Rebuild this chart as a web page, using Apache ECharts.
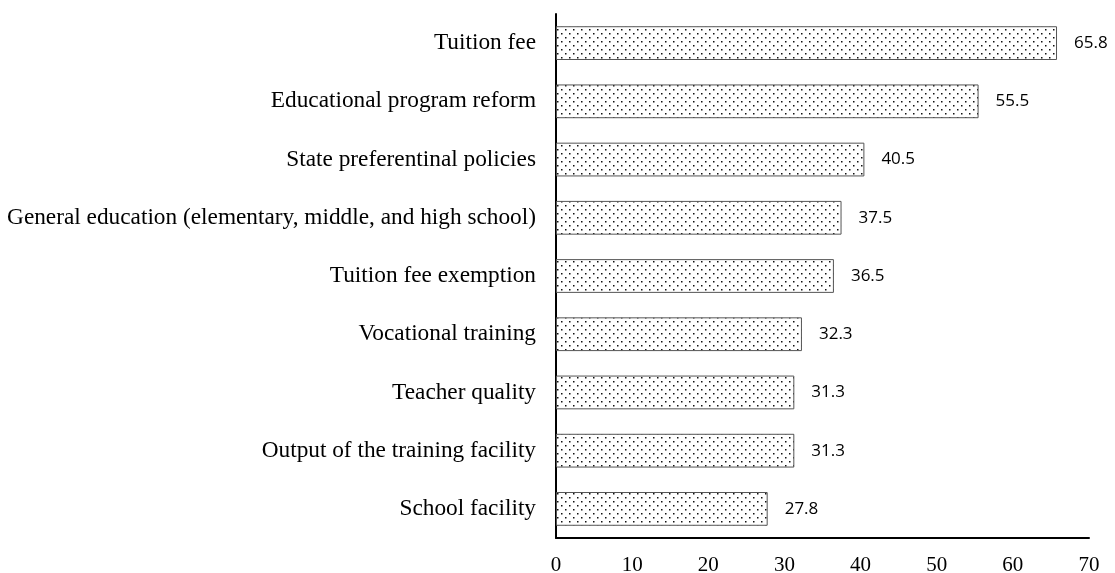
<!DOCTYPE html>
<html>
<head>
<meta charset="utf-8">
<script src="https://cdn.jsdelivr.net/npm/echarts@6/dist/echarts.min.js"></script>
<style>
  html, body { margin: 0; padding: 0; background: #fff; }
  #chart { width: 1115px; height: 573px; }
</style>
</head>
<body>
<div id="chart"></div>
<script>
// categories top to bottom
const categories = [
  'Tuition fee',
  'Educational program reform',
  'State preferentinal policies',
  'General education (elementary, middle, and high school)',
  'Tuition fee exemption',
  'Vocational training',
  'Teacher quality',
  'Output of the training facility',
  'School facility'
]
const values = [65.8, 55.5, 40.5, 37.5, 36.5, 32.3, 31.3, 31.3, 27.8]
const xTicks = [0, 10, 20, 30, 40, 50, 60, 70]

// dotted fill like the original
function dotPattern () {
  const c = document.createElement('canvas')
  c.width = 8
  c.height = 8
  const ctx = c.getContext('2d')
  ctx.fillStyle = '#fff'
  ctx.fillRect(0, 0, 8, 8)
  ctx.fillStyle = '#111'
  ctx.fillRect(1, 1, 1.5, 1.5)
  ctx.fillRect(5, 5, 1.5, 1.5)
  return c
}

const chart = echarts.init(document.getElementById('chart'))
chart.setOption({
  animation: false,
  grid: { left: 556, top: 14, right: 26, bottom: 35, containLabel: false, outerBoundsMode: 'none' },
  xAxis: {
    type: 'value',
    min: xTicks[0],
    max: xTicks[xTicks.length - 1],
    interval: 10,
    axisLine: { show: true, lineStyle: { color: '#000', width: 2 } },
    axisTick: { show: false },
    splitLine: { show: false },
    axisLabel: {
      margin: 17,
      color: '#000',
      fontFamily: '"Liberation Serif", "Times New Roman", serif',
      fontSize: 21
    }
  },
  yAxis: {
    type: 'category',
    inverse: true,
    data: categories,
    axisLine: { show: true, lineStyle: { color: '#000', width: 2 } },
    axisTick: { show: false },
    axisLabel: {
      margin: 20,
      color: '#000',
      fontFamily: '"Liberation Serif", "Times New Roman", serif',
      fontSize: 23.3
    }
  },
  series: [{
    type: 'bar',
    data: values,
    barCategoryGap: '42%',
    itemStyle: {
      color: { image: dotPattern(), repeat: 'repeat' },
      borderColor: '#555',
      borderWidth: 1
    },
    label: {
      show: true,
      position: 'right',
      distance: 17,
      color: '#000',
      fontFamily: '"Open Sans", "Noto Sans", sans-serif',
      fontSize: 17
    }
  }]
})
</script>
</body>
</html>
